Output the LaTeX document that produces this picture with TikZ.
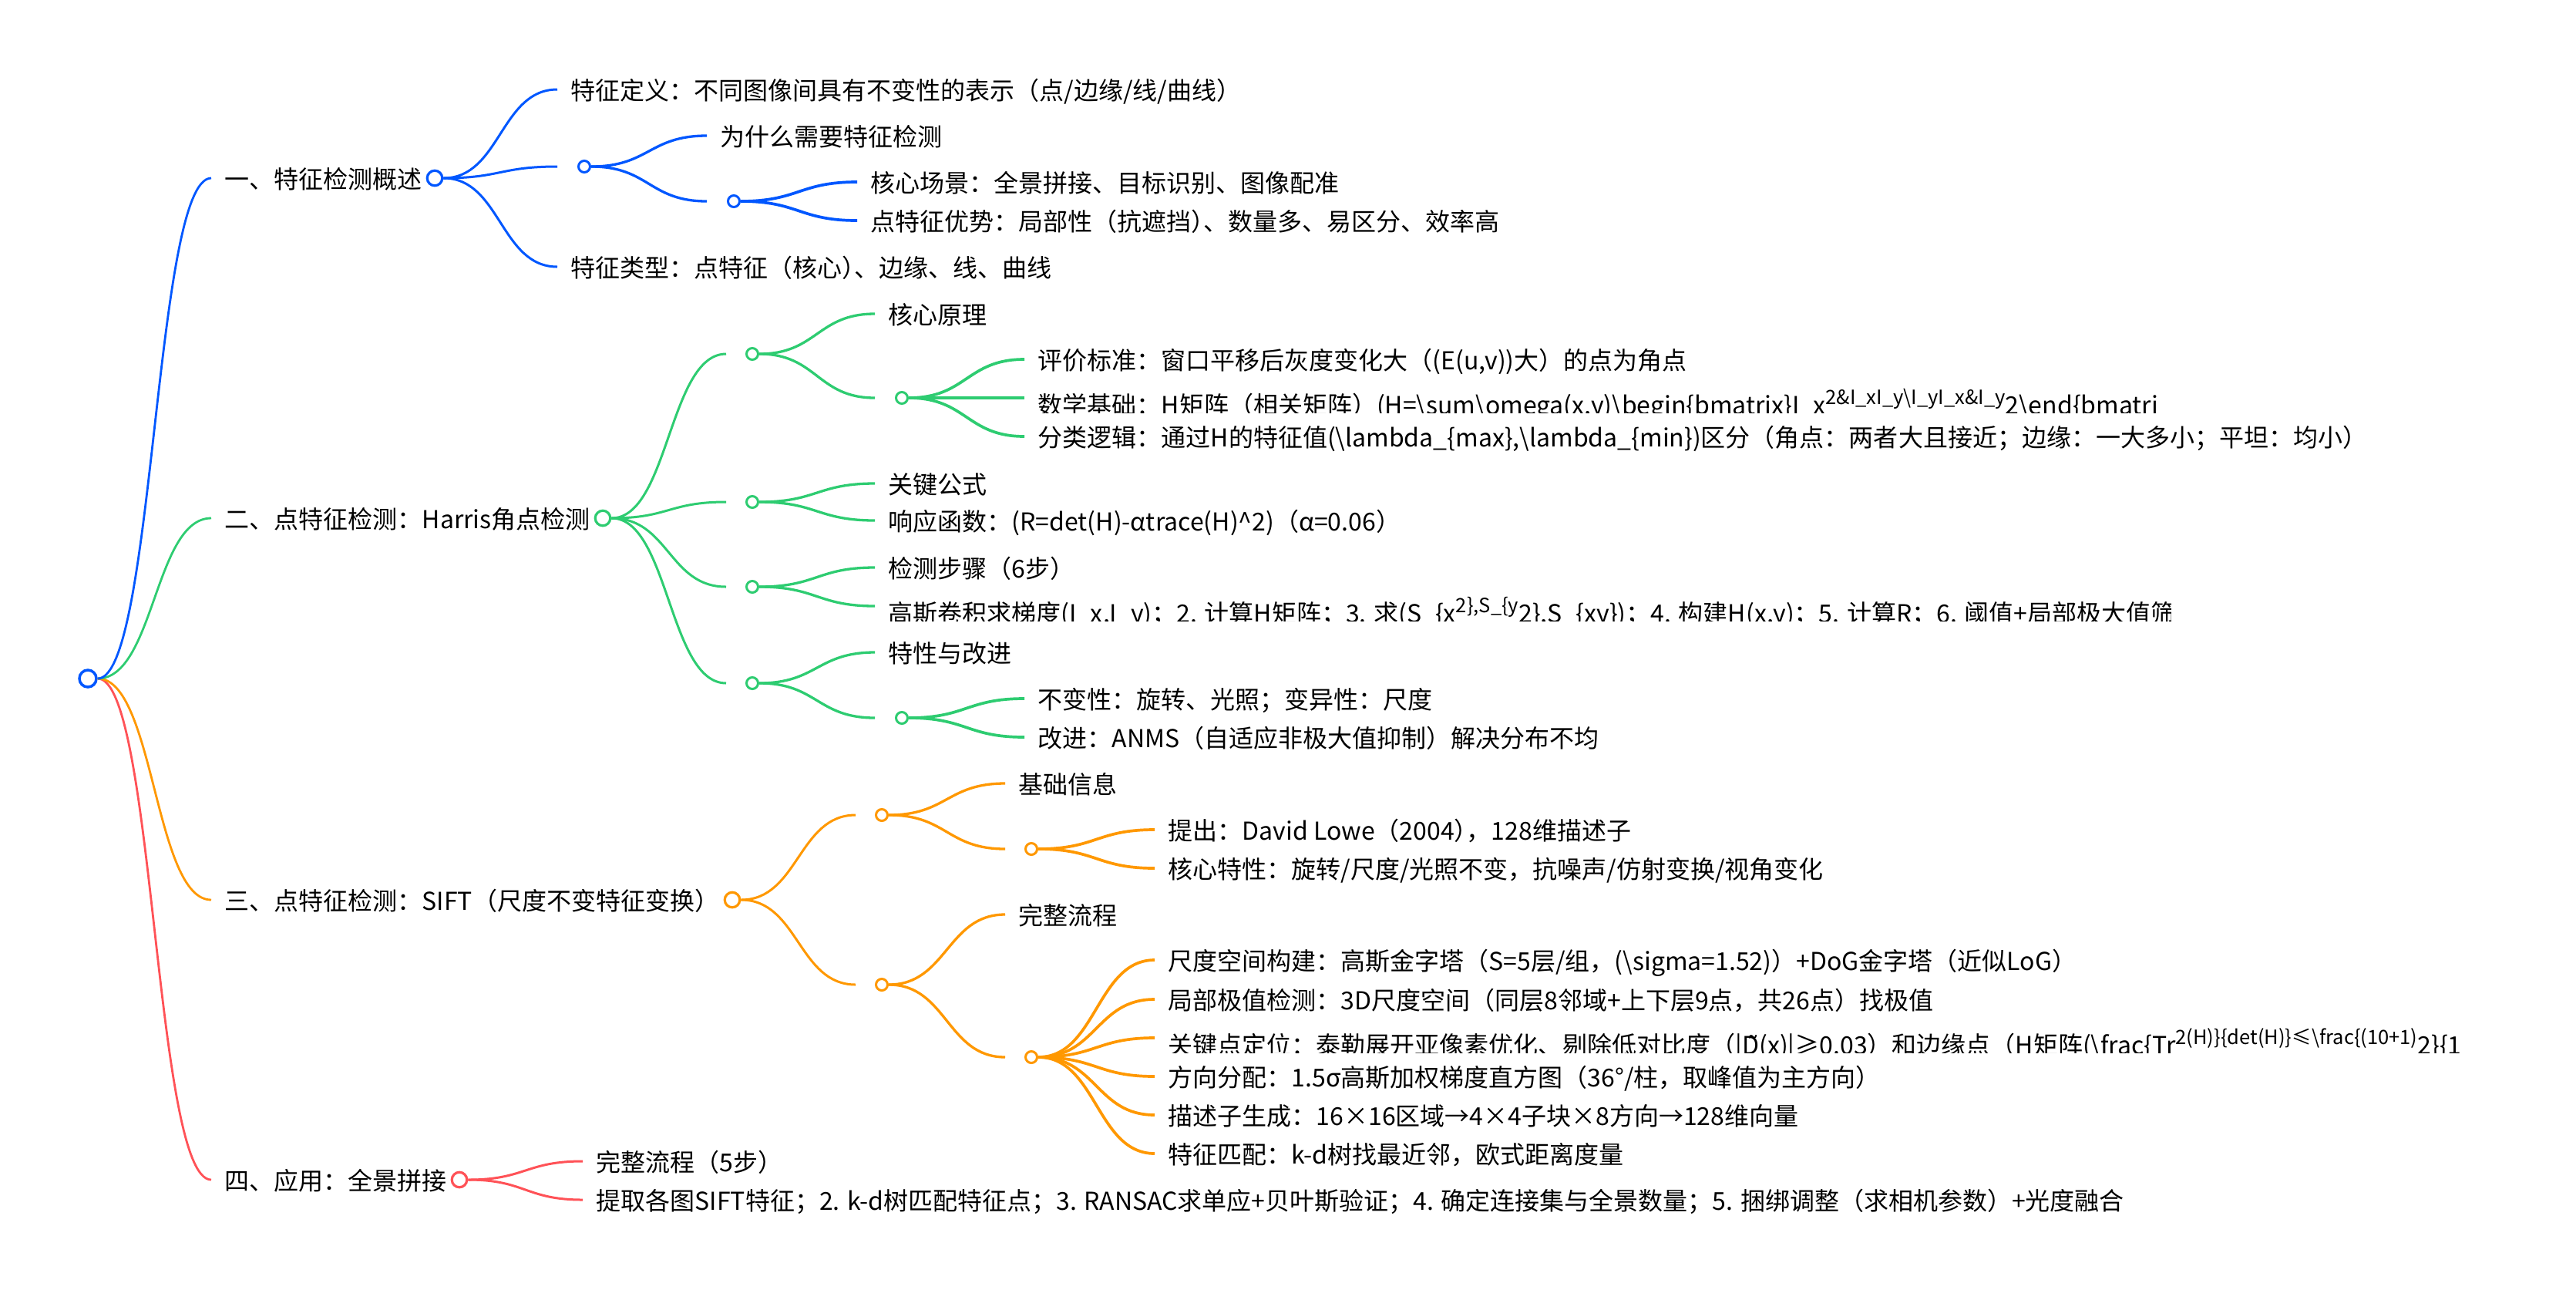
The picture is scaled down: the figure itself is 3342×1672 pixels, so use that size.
\documentclass[tikz,border=0pt]{standalone}
\usepackage{fontspec}
\setmainfont{Noto Sans CJK SC}
\newfontfamily\markfont{DejaVu Sans}
\usetikzlibrary{calc}
\definecolor{mapblue}{HTML}{0057FF}
\definecolor{mapgreen}{HTML}{2ECC71}
\definecolor{maporange}{HTML}{FF9800}
\definecolor{mapred}{HTML}{FF5257}
\newcommand{\supt}[1]{\raisebox{.13cm}{\fontsize{7.26}{9}\selectfont #1}}
\newcommand{\sqz}{\kern-.5em}

\begin{document}
\begin{tikzpicture}[
  x=.01cm, y=-.01cm,
  font=\fontsize{9.1}{11}\selectfont,
  leaf/.style={anchor=west, inner xsep=.17cm, inner ysep=0pt, text height=.27cm, text depth=0cm},
  tallleaf/.style={leaf, text height=.42cm},
  rootdot/.style={circle, draw, fill=white, line width=.035cm, minimum size=.22cm, inner sep=0pt},
  maindot/.style={circle, draw, fill=white, line width=.032cm, minimum size=.195cm, inner sep=0pt},
  dot/.style={circle, draw, fill=white, line width=.03cm, minimum size=.15cm, inner sep=0pt},
  link/.style={to path={let \p1=(\tikztostart), \p2=(\tikztotarget) in
    .. controls ({(\x1+\x2)/2},\y1) and ({(\x1+\x2)/2},\y2) .. (\tikztotarget)}},
  lvla/.style={link, line width=.028cm},
  lvlb/.style={link, line width=.03cm},
  lvlc/.style={link, line width=.033cm},
  lvld/.style={link, line width=.037cm}
]
\useasboundingbox (0,0) rectangle (3342,1672);

% first branch
\node[leaf] (over) at (274,231) {一、特征检测概述};
\node[maindot, draw=mapblue] (overdot) at (564,231) {};
\node[leaf] (overdef) at (723,116) {特征定义：不同图像间具有不变性的表示（点/边缘/线/曲线）};
\coordinate (whyin) at (723,216);
\node[dot, draw=mapblue] (whydot) at (758,216) {};
\node[leaf] (why) at (917,176) {为什么需要特征检测};
\coordinate (scenein) at (917,261);
\node[dot, draw=mapblue] (scenedot) at (952,261) {};
\node[leaf] (scene) at (1112,236) {核心场景：全景拼接、目标识别、图像配准};
\node[leaf] (gain) at (1112,286) {点特征优势：局部性（抗遮挡）\sqz 、数量多、易区分、效率高};
\node[leaf] (kinds) at (723,346) {特征类型：点特征（核心）\sqz 、边缘、线、曲线};

% second branch
\node[leaf] (harris) at (274,672) {二、点特征检测：Harris角点检测};
\node[maindot, draw=mapgreen] (harrisdot) at (782,672) {};
\coordinate (corein) at (942,459);
\node[dot, draw=mapgreen] (coredot) at (976,459) {};
\node[leaf] (core) at (1135,407) {核心原理};
\coordinate (critin) at (1135,516);
\node[dot, draw=mapgreen] (critdot) at (1170,516) {};
\node[leaf] (crit) at (1329,466) {评价标准：窗口平移后灰度变化大（(E(u,v))大）的点为角点};
\begin{scope}
  \clip (1329,480) rectangle (2802,535);
  \node[tallleaf] (math) at (1329,516) {数学基础：H矩阵（相关矩阵）(H=\textbackslash sum\textbackslash omega(x,y)\textbackslash begin\{bmatrix\}I\_x\supt{2\&I\_xI\_y\textbackslash I\_yI\_x\&I\_y}2\textbackslash end\{bmatri};
\end{scope}
\node[leaf] (classify) at (1329,566) {分类逻辑：通过H的特征值(\textbackslash lambda\_\{max\},\textbackslash lambda\_\{min\})区分（角点：两者大且接近；边缘：一大多小；平坦：均小）};
\coordinate (formin) at (942,651);
\node[dot, draw=mapgreen] (formdot) at (976,651) {};
\node[leaf] (form) at (1135,627) {关键公式};
\node[leaf] (resp) at (1135,675) {响应函数：(R=det(H)-αtrace(H)\textasciicircum 2)（α=0.06）};
\coordinate (stepsin) at (942,761);
\node[dot, draw=mapgreen] (stepsdot) at (976,761) {};
\node[leaf] (steps) at (1135,736) {检测步骤（6步）};
\begin{scope}
  \clip (1135,750) rectangle (2816,805);
  \node[tallleaf] (gauss) at (1135,786) {高斯卷积求梯度(I\_x,I\_y)；2. 计算H矩阵；3. 求(S\_\{x\supt{2\},S\_\{y}2\},S\_\{xy\})；4. 构建H(x,y)；5. 计算R；6. 阈值+局部极大值筛};
\end{scope}
\coordinate (traitin) at (942,886);
\node[dot, draw=mapgreen] (traitdot) at (976,886) {};
\node[leaf] (trait) at (1135,846) {特性与改进};
\coordinate (invin) at (1135,931);
\node[dot, draw=mapgreen] (invdot) at (1170,931) {};
\node[leaf] (inv) at (1329,906) {不变性：旋转、光照；变异性：尺度};
\node[leaf] (anms) at (1329,956) {改进：ANMS（自适应非极大值抑制）解决分布不均};

% third branch
\node[leaf] (sift) at (274,1167) {三、点特征检测：SIFT（尺度不变特征变换）};
\node[maindot, draw=maporange] (siftdot) at (950,1167) {};
\coordinate (basein) at (1110,1057);
\node[dot, draw=maporange] (basedot) at (1144,1057) {};
\node[leaf] (base) at (1304,1016) {基础信息};
\coordinate (lowein) at (1304,1101);
\node[dot, draw=maporange] (lowedot) at (1338,1101) {};
\node[leaf] (lowe) at (1498,1076) {提出：David Lowe（2004）\sqz ，128维描述子};
\node[leaf] (prop) at (1498,1126) {核心特性：旋转/尺度/光照不变，抗噪声/仿射变换/视角变化};
\coordinate (flowin) at (1110,1277);
\node[dot, draw=maporange] (flowdot) at (1144,1277) {};
\node[leaf] (flow) at (1304,1186) {完整流程};
\coordinate (spacein) at (1304,1371);
\node[dot, draw=maporange] (spacedot) at (1338,1371) {};
\node[leaf] (space) at (1498,1245) {尺度空间构建：高斯金字塔（S=5层/组，(\textbackslash sigma=1.52)）+DoG金字塔（近似LoG）};
\node[leaf] (extrema) at (1498,1296) {局部极值检测：3D尺度空间（同层8邻域+上下层9点，共26点）找极值};
\begin{scope}
  \clip (1498,1310) rectangle (3205,1365);
  \node[tallleaf] (locate) at (1498,1346) {关键点定位：泰勒展开亚像素优化、剔除低对比度（|D{\markfont ^^^^0303}(x)|≥0.03）和边缘点（H矩阵(\textbackslash frac\{Tr\supt{2(H)\}\{det(H)\}≤\textbackslash frac\{(10+1)}2\}\{1};
\end{scope}
\node[leaf] (orient) at (1498,1396) {方向分配：1.5σ高斯加权梯度直方图（36°/柱，取峰值为主方向）};
\node[leaf] (desc) at (1498,1446) {描述子生成：16×16区域→4×4子块×8方向→128维向量};
\node[leaf] (match) at (1498,1496) {特征匹配：k-d树找最近邻，欧式距离度量};

% fourth branch
\node[leaf] (pano) at (274,1530) {四、应用：全景拼接};
\node[maindot, draw=mapred] (panodot) at (596,1530) {};
\node[leaf] (panoflow) at (756,1506) {完整流程（5步）};
\node[leaf] (panosteps) at (756,1556) {提取各图SIFT特征；2. k-d树匹配特征点；3. RANSAC求单应+贝叶斯验证；4. 确定连接集与全景数量；5. 捆绑调整（求相机参数）+光度融合};

\node[rootdot, draw=mapblue] (root) at (114,880) {};

% connectors
\path[lvla, draw=mapred] (root.east) to (pano.west);
\path[lvla, draw=maporange] (root.east) to (sift.west);
\path[lvla, draw=mapgreen] (root.east) to (harris.west);
\path[lvla, draw=mapblue] (root.east) to (over.west);

\path[lvlb, draw=mapblue] (overdot.east) to (overdef.west);
\path[lvlb, draw=mapblue] (overdot.east) to (whyin);
\path[lvlb, draw=mapblue] (overdot.east) to (kinds.west);
\path[lvlc, draw=mapblue] (whydot.east) to (why.west);
\path[lvlc, draw=mapblue] (whydot.east) to (scenein);
\path[lvld, draw=mapblue] (scenedot.east) to (scene.west);
\path[lvld, draw=mapblue] (scenedot.east) to (gain.west);

\path[lvlb, draw=mapgreen] (harrisdot.east) to (corein);
\path[lvlb, draw=mapgreen] (harrisdot.east) to (formin);
\path[lvlb, draw=mapgreen] (harrisdot.east) to (stepsin);
\path[lvlb, draw=mapgreen] (harrisdot.east) to (traitin);
\path[lvlc, draw=mapgreen] (coredot.east) to (core.west);
\path[lvlc, draw=mapgreen] (coredot.east) to (critin);
\path[lvld, draw=mapgreen] (critdot.east) to (crit.west);
\path[lvld, draw=mapgreen] (critdot.east) to (math.west);
\path[lvld, draw=mapgreen] (critdot.east) to (classify.west);
\path[lvlc, draw=mapgreen] (formdot.east) to (form.west);
\path[lvlc, draw=mapgreen] (formdot.east) to (resp.west);
\path[lvlc, draw=mapgreen] (stepsdot.east) to (steps.west);
\path[lvlc, draw=mapgreen] (stepsdot.east) to (gauss.west);
\path[lvlc, draw=mapgreen] (traitdot.east) to (trait.west);
\path[lvlc, draw=mapgreen] (traitdot.east) to (invin);
\path[lvld, draw=mapgreen] (invdot.east) to (inv.west);
\path[lvld, draw=mapgreen] (invdot.east) to (anms.west);

\path[lvlb, draw=maporange] (siftdot.east) to (basein);
\path[lvlb, draw=maporange] (siftdot.east) to (flowin);
\path[lvlc, draw=maporange] (basedot.east) to (base.west);
\path[lvlc, draw=maporange] (basedot.east) to (lowein);
\path[lvld, draw=maporange] (lowedot.east) to (lowe.west);
\path[lvld, draw=maporange] (lowedot.east) to (prop.west);
\path[lvlc, draw=maporange] (flowdot.east) to (flow.west);
\path[lvlc, draw=maporange] (flowdot.east) to (spacein);
\path[lvld, draw=maporange] (spacedot.east) to (space.west);
\path[lvld, draw=maporange] (spacedot.east) to (extrema.west);
\path[lvld, draw=maporange] (spacedot.east) to (locate.west);
\path[lvld, draw=maporange] (spacedot.east) to (orient.west);
\path[lvld, draw=maporange] (spacedot.east) to (desc.west);
\path[lvld, draw=maporange] (spacedot.east) to (match.west);

\path[lvlb, draw=mapred] (panodot.east) to (panoflow.west);
\path[lvlb, draw=mapred] (panodot.east) to (panosteps.west);

\end{tikzpicture}
\end{document}
